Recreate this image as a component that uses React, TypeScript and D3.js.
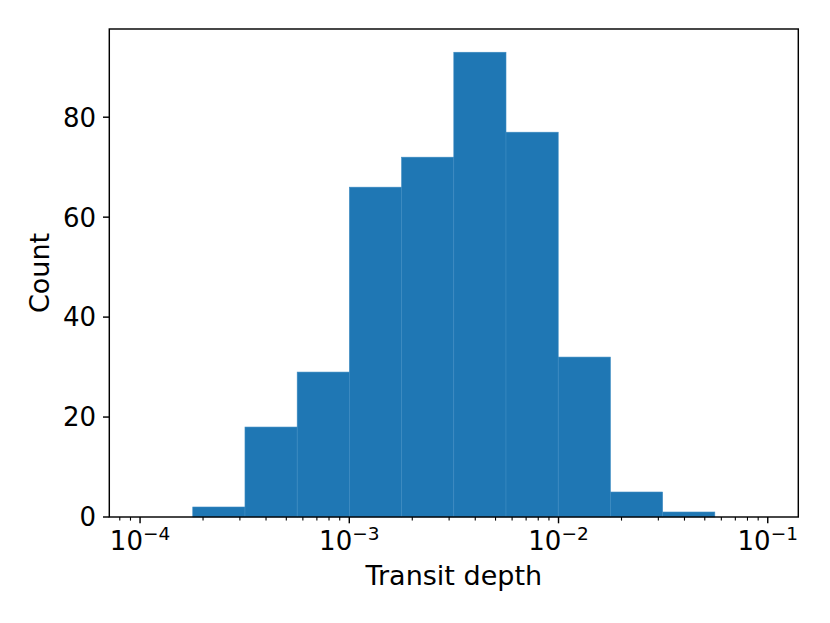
import React from 'react';
import * as d3 from 'd3';

// histogram bins (log-spaced edges) and counts
const binEdges = [1.786e-4, 3.173e-4, 5.636e-4, 1.001e-3, 1.778e-3, 3.159e-3, 5.61e-3, 9.966e-3, 1.77e-2, 3.144e-2, 5.585e-2];
const counts = [2, 18, 29, 66, 72, 93, 77, 32, 5, 1];
const xMajorTicks = [1e-4, 1e-3, 1e-2, 1e-1];
const xTickExponents = ['\u22124', '\u22123', '\u22122', '\u22121'];
const yTicks = [0, 20, 40, 60, 80];

const W = 830;
const H = 623;
const left = 109.3, right = 798.3, top = 29, bottom = 517;
const font = 'DejaVu Sans, sans-serif';
const fs = 26;

const App = () => {
    const x = d3.scaleLog()
        .domain([Math.pow(10, -4.147), Math.pow(10, -0.854)])
        .range([left, right]);

    const y = d3.scaleLinear()
        .domain([0, 93 * 1.05])
        .range([bottom, top]);

    const [d0, d1] = x.domain();
    const minorTicks: number[] = [];
    for (let e = -5; e <= 0; e++) {
        for (let m = 2; m <= 9; m++) {
            const v = m * Math.pow(10, e);
            if (v >= d0 && v <= d1) minorTicks.push(v);
        }
    }

    const bins = counts.map((c, i) => ({ x0: binEdges[i], x1: binEdges[i + 1], c }));

    return (
        <svg width={W} height={H} style={{ position: 'absolute', left: 0, top: 0, background: '#fff' }}>
            <g>
                {bins.map((b, i) => (
                    <rect key={i}
                        x={x(b.x0)}
                        y={y(b.c)}
                        width={x(b.x1) - x(b.x0)}
                        height={y(0) - y(b.c)}
                        fill="#1f77b4"
                        stroke="#3d8bc2"
                        strokeWidth={0.6} />
                ))}
            </g>

            {/* x axis ticks */}
            <g>
                {minorTicks.map((t, i) => (
                    <line key={'m' + i} x1={x(t)} x2={x(t)} y1={bottom} y2={bottom + 3.6} stroke="#000" strokeWidth={1.1} />
                ))}
                {xMajorTicks.map((t, i) => (
                    <g key={'M' + i}>
                        <line x1={x(t)} x2={x(t)} y1={bottom} y2={bottom + 6.3} stroke="#000" strokeWidth={1.44} />
                        <text x={x(t)} y={550} textAnchor="middle" fontFamily={font} fontSize={fs} fill="#000">
                            10<tspan dy={-10} fontSize={18.5}>{xTickExponents[i]}</tspan>
                        </text>
                    </g>
                ))}
            </g>

            {/* y axis ticks */}
            <g>
                {yTicks.map(t => (
                    <g key={t}>
                        <line x1={left - 6.3} x2={left} y1={y(t)} y2={y(t)} stroke="#000" strokeWidth={1.44} />
                        <text x={96} y={y(t)} dy="0.36em" textAnchor="end" fontFamily={font} fontSize={fs} fill="#000">{t}</text>
                    </g>
                ))}
            </g>

            <rect x={left} y={top} width={right - left} height={bottom - top} fill="none" stroke="#000" strokeWidth={1.44} />

            <text x={(left + right) / 2} y={585} textAnchor="middle" fontFamily={font} fontSize={27} fill="#000">Transit depth</text>
            <text transform={`translate(49,${(top + bottom) / 2}) rotate(-90)`} textAnchor="middle" fontFamily={font} fontSize={27} fill="#000">Count</text>
        </svg>
    );
};

export default App;
